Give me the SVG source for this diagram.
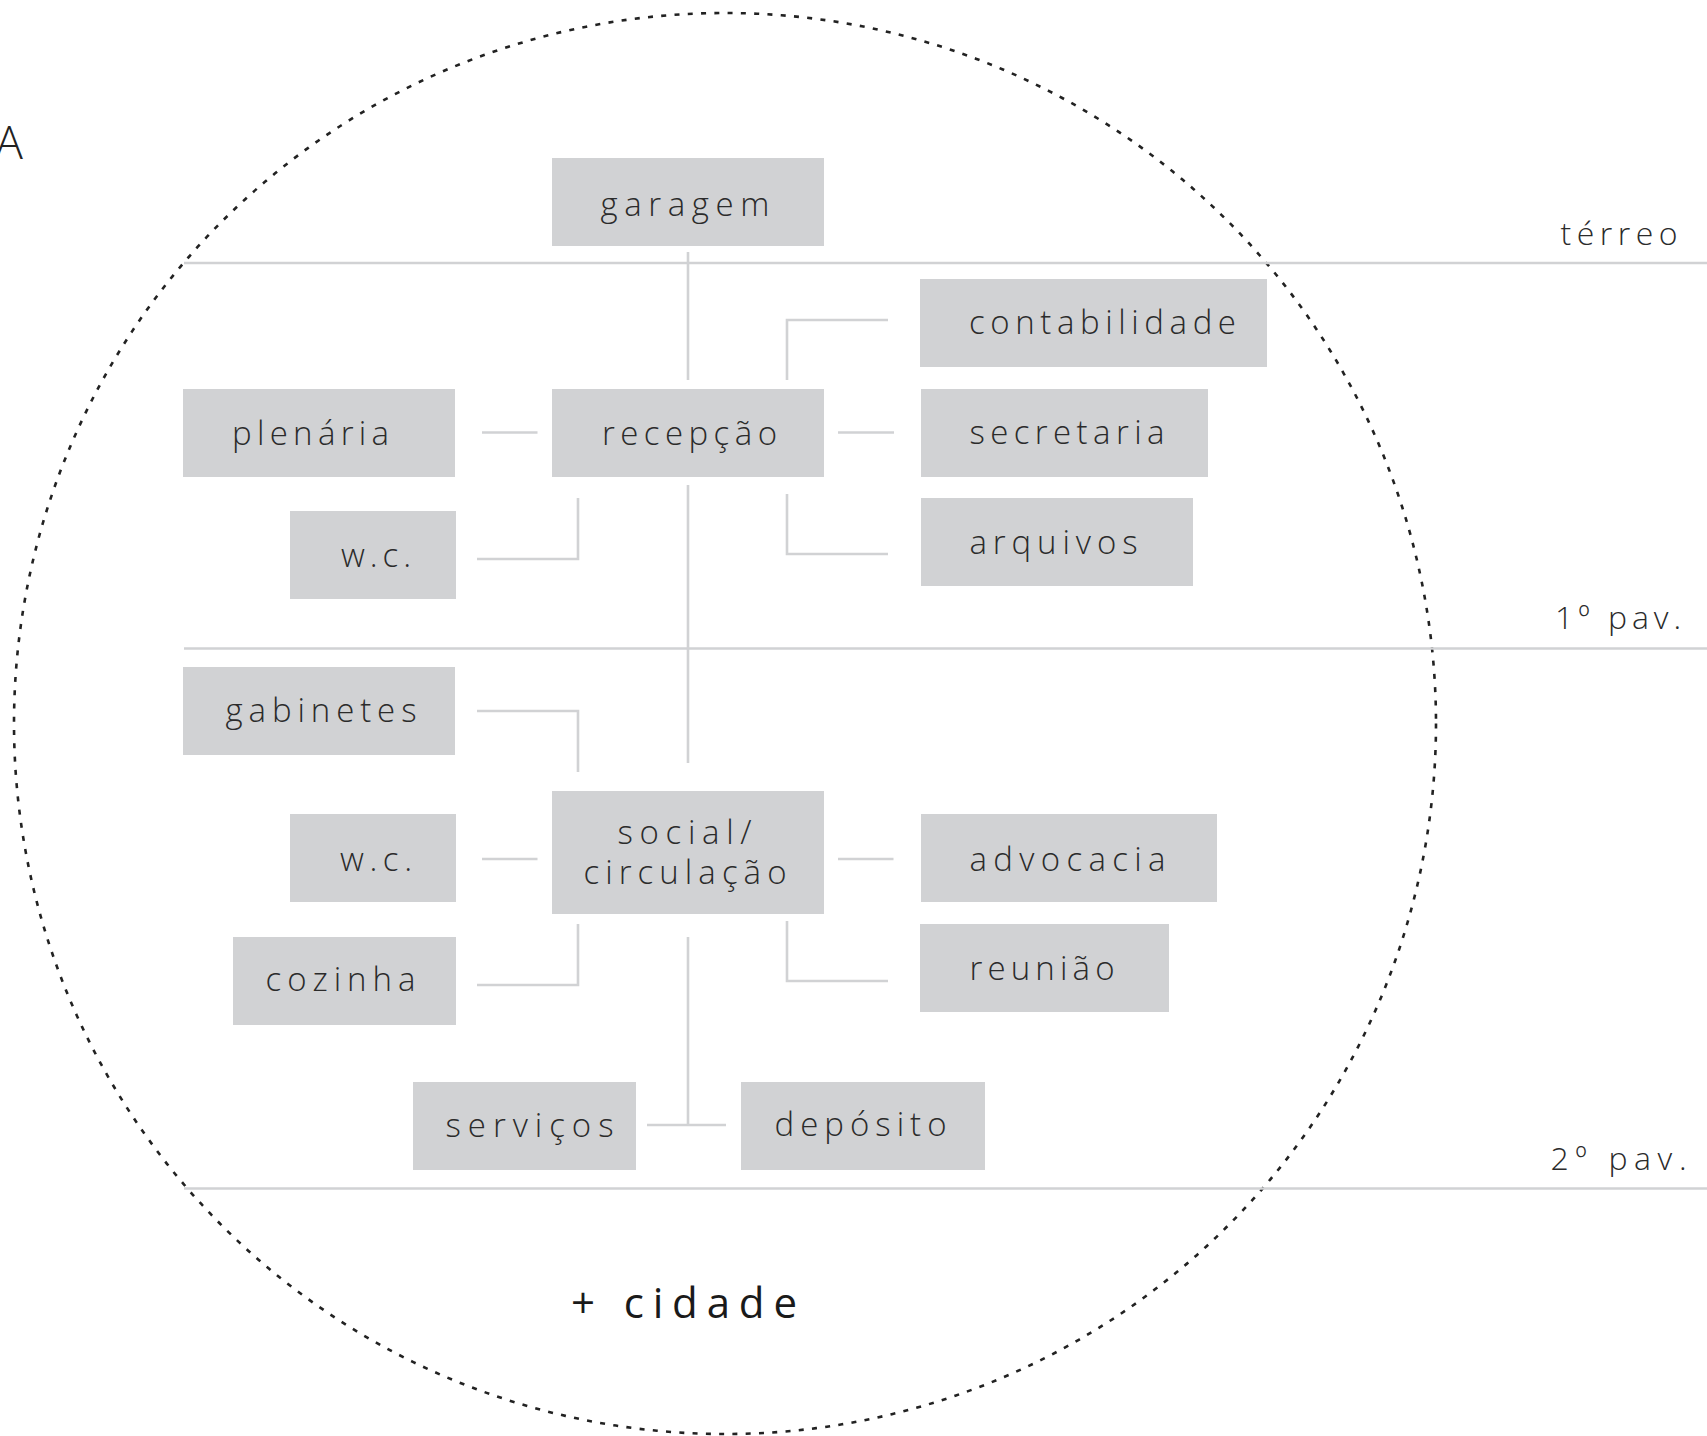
<svg xmlns="http://www.w3.org/2000/svg" width="1707" height="1436" viewBox="0 0 1707 1436">
<style>
.box{fill:#d1d2d4}
.lbl{font-family:"Open Sans","Liberation Sans",sans-serif;font-weight:300;font-size:33px;fill:#2b2b2b}
.flr{font-family:"Open Sans","Liberation Sans",sans-serif;font-weight:300;font-size:32px;fill:#2b2b2b}
.con{fill:none;stroke:#d1d2d4;stroke-width:2.6}
.floor{stroke:#d1d2d4;stroke-width:2.6}
</style>
<rect width="1707" height="1436" fill="#ffffff"/>
<ellipse id="city" cx="725" cy="723.5" rx="711" ry="710.5" fill="none" stroke="#222" stroke-width="2.6" stroke-dasharray="5 8.3"/>
<text x="23" y="159" text-anchor="end" style="font-family:'Open Sans','Liberation Sans',sans-serif;font-weight:300;font-size:46px;fill:#222">A</text>
<g id="floors">
<line class="floor" x1="184" y1="263" x2="1707" y2="263"/>
<line class="floor" x1="184" y1="648.5" x2="1707" y2="648.5"/>
<line class="floor" x1="184" y1="1188.5" x2="1707" y2="1188.5"/>
<text class="flr" x="1560.5" y="245" textLength="117" lengthAdjust="spacing">térreo</text>
<text class="flr" x="1555" y="629" textLength="126" lengthAdjust="spacing">1º pav.</text>
<text class="flr" x="1550.5" y="1170" textLength="136" lengthAdjust="spacing">2º pav.</text>
</g>
<g id="connectors">
<line class="con" x1="688" y1="252" x2="688" y2="380"/>
<line class="con" x1="482" y1="432.5" x2="537.5" y2="432.5"/>
<line class="con" x1="838" y1="432.5" x2="894" y2="432.5"/>
<polyline class="con" points="787,380 787,320 888,320"/>
<polyline class="con" points="787,494 787,554 888,554"/>
<polyline class="con" points="578,498 578,559 477,559"/>
<line class="con" x1="688" y1="485" x2="688" y2="763"/>
<polyline class="con" points="477,711 578,711 578,772"/>
<line class="con" x1="482" y1="859" x2="537.5" y2="859"/>
<line class="con" x1="838" y1="859" x2="893.5" y2="859"/>
<polyline class="con" points="578,924 578,985 477,985"/>
<polyline class="con" points="787,921 787,981 888,981"/>
<line class="con" x1="688" y1="937" x2="688" y2="1125"/>
<line class="con" x1="647" y1="1125" x2="726" y2="1125"/>
</g>
<g id="garagem"><rect class="box" x="552" y="158" width="272" height="88"/><text class="lbl" x="600.5" y="216" textLength="169" lengthAdjust="spacing">garagem</text></g>
<g id="recepcao"><rect class="box" x="552" y="389" width="272" height="88"/><text class="lbl" x="602" y="445" textLength="175" lengthAdjust="spacing">recepção</text></g>
<g id="plenaria"><rect class="box" x="183" y="389" width="272" height="88"/><text class="lbl" x="232" y="445" textLength="157" lengthAdjust="spacing">plenária</text></g>
<g id="wc1"><rect class="box" x="290" y="511" width="166" height="88"/><text class="lbl" x="341" y="567" textLength="70" lengthAdjust="spacing">w.c.</text></g>
<g id="contabilidade"><rect class="box" x="920" y="279" width="347" height="88"/><text class="lbl" x="969" y="334" textLength="267" lengthAdjust="spacing">contabilidade</text></g>
<g id="secretaria"><rect class="box" x="921" y="389" width="287" height="88"/><text class="lbl" x="969.5" y="444" textLength="195" lengthAdjust="spacing">secretaria</text></g>
<g id="arquivos"><rect class="box" x="921" y="498" width="272" height="88"/><text class="lbl" x="969.5" y="554" textLength="168" lengthAdjust="spacing">arquivos</text></g>
<g id="gabinetes"><rect class="box" x="183" y="667" width="272" height="88"/><text class="lbl" x="225.5" y="722" textLength="191" lengthAdjust="spacing">gabinetes</text></g>
<g id="social"><rect class="box" x="552" y="791" width="272" height="123"/><text class="lbl" x="617.5" y="844" textLength="134" lengthAdjust="spacing">social/</text><text class="lbl" x="583.5" y="884" textLength="203" lengthAdjust="spacing">circulação</text></g>
<g id="wc2"><rect class="box" x="290" y="814" width="166" height="88"/><text class="lbl" x="340" y="871" textLength="72" lengthAdjust="spacing">w.c.</text></g>
<g id="advocacia"><rect class="box" x="921" y="814" width="296" height="88"/><text class="lbl" x="969.5" y="871" textLength="196" lengthAdjust="spacing">advocacia</text></g>
<g id="cozinha"><rect class="box" x="233" y="937" width="223" height="88"/><text class="lbl" x="265.5" y="991" textLength="150" lengthAdjust="spacing">cozinha</text></g>
<g id="reuniao"><rect class="box" x="920" y="924" width="249" height="88"/><text class="lbl" x="969.5" y="980" textLength="145" lengthAdjust="spacing">reunião</text></g>
<g id="servicos"><rect class="box" x="413" y="1082" width="223" height="88"/><text class="lbl" x="445.5" y="1137" textLength="168" lengthAdjust="spacing">serviços</text></g>
<g id="deposito"><rect class="box" x="741" y="1082" width="244" height="88"/><text class="lbl" x="774.5" y="1136" textLength="172" lengthAdjust="spacing">depósito</text></g>
<text x="571" y="1318" textLength="226" lengthAdjust="spacing" style="font-family:'Open Sans','Liberation Sans',sans-serif;font-weight:400;font-size:42px;fill:#1a1a1a">+ cidade</text>
</svg>
